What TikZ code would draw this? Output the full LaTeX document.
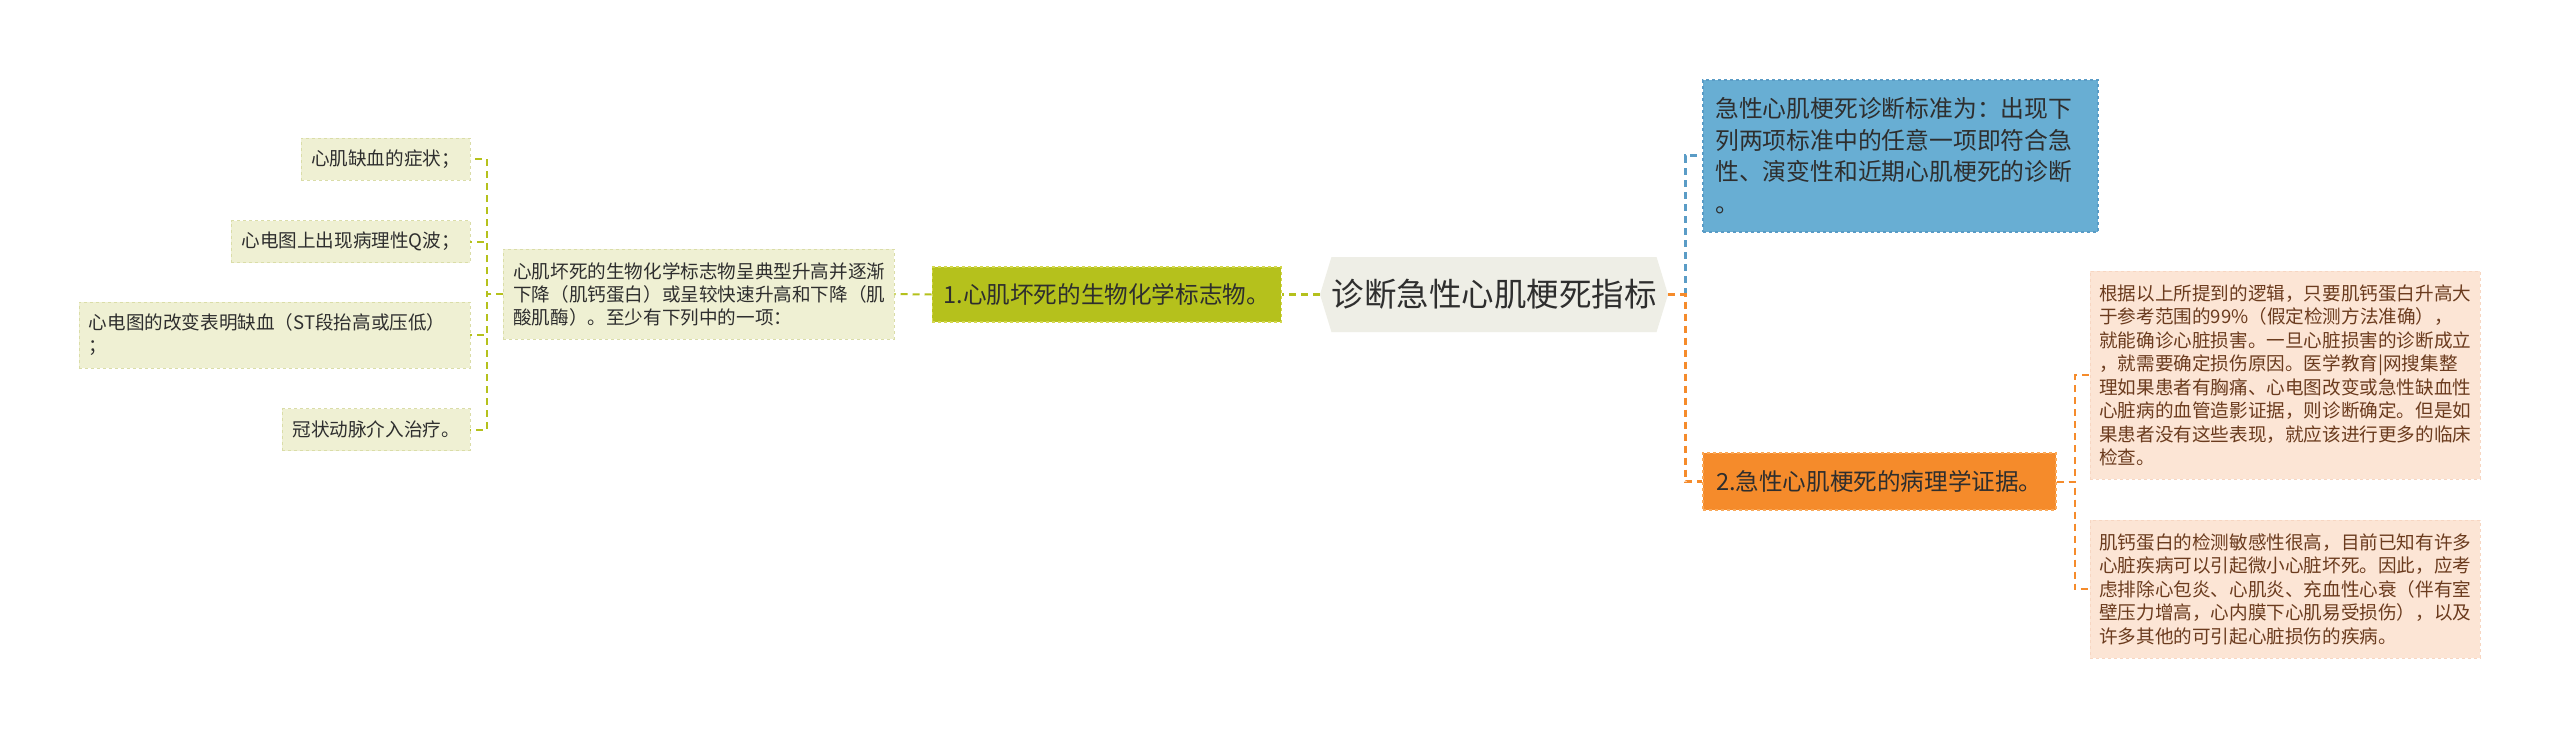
\documentclass[tikz,border=0pt]{standalone}
\usepackage{fontspec}
\setmainfont{Noto Sans CJK SC}
\usetikzlibrary{shapes.symbols}
\definecolor{leaffill}{HTML}{EFF0D3}
\definecolor{leafline}{HTML}{DADDA8}
\definecolor{limefill}{HTML}{B5C11C}
\definecolor{limeline}{HTML}{D3D74C}
\definecolor{hubfill}{HTML}{EEEEE6}
\definecolor{bluefill}{HTML}{68AED3}
\definecolor{blueline}{HTML}{5A9CC6}
\definecolor{orangefill}{HTML}{F58B2B}
\definecolor{orangeline}{HTML}{F9A858}
\definecolor{peachfill}{HTML}{FCE5D5}
\definecolor{peachline}{HTML}{F7D6C2}
\definecolor{peachtext}{HTML}{6B3B1E}
\definecolor{txtgray}{HTML}{2E2E2E}
\begin{document}
\begin{tikzpicture}
[%%%%%%%%%%%%%%%%%%%%%%%%%%%%%%
x=1pt,y=-1pt,
leaf/.style={rectangle,fill=leaffill,draw=leafline,dashed,text=txtgray,inner xsep=10pt,inner ysep=0pt,minimum height=42pt,align=left,font=\fontsize{18.6}{23}\selectfont},
topic/.style={rectangle,draw,dashed,line width=1.5pt,text=txtgray,inner xsep=8pt,inner ysep=0pt,font=\fontsize{23.6}{28}\selectfont},
note/.style={rectangle,fill=peachfill,draw=peachline,dashed,text=peachtext,inner xsep=9pt,inner ysep=0pt,minimum width=390pt,text width=372pt,align=left,font=\fontsize{18.6}{23.5}\selectfont},
link/.style={dash pattern=on 7pt off 5pt,line width=2pt},
]%%%%%%%%%%%%%%%%%%%%%%%%%%%%%%

\useasboundingbox[fill=white] (0,0) rectangle (2560,737);

% centre
\node[signal,signal to=east and west,signal pointer angle=146,fill=hubfill,inner sep=0pt,minimum width=348pt,minimum height=75pt,text=txtgray,font=\fontsize{32.5}{38}\selectfont] (hub) at (1494,294.5){诊断急性心肌梗死指标};

% left branch
\node[topic,fill=limefill,draw=limeline,minimum width=349pt,minimum height=55pt,anchor=east] (marker) at (1282,294.5){1.心肌坏死的生物化学标志物。};
\node[leaf,text width=371pt,minimum height=90pt,anchor=west] (markerdesc) at (503,294){心肌坏死的生物化学标志物呈典型升高并逐渐\\下降（肌钙蛋白）或呈较快速升高和下降（肌\\酸肌酶）。至少有下列中的一项：};

\node[leaf,anchor=east] (leafa) at (470,159){心肌缺血的症状；};
\node[leaf,anchor=east] (leafb) at (470,241.5){心电图上出现病理性Q波；};
\node[leaf,anchor=east,text width=371pt,minimum height=66pt] (leafc) at (470,335){心电图的改变表明缺血（ST段抬高或压低）\\；};
\node[leaf,anchor=east] (leafd) at (470,429.5){冠状动脉介入治疗。};

% right branch
\node[topic,fill=bluefill,draw=blueline,anchor=north west,minimum width=395pt,minimum height=152pt,text width=370pt,inner xsep=12.5pt,align=left,font=\fontsize{23.8}{31.7}\selectfont] (criteria) at (1702,79){急性心肌梗死诊断标准为：出现下\\列两项标准中的任意一项即符合急\\性、演变性和近期心肌梗死的诊断\\。};
\node[topic,fill=orangefill,draw=orangeline,minimum width=353pt,minimum height=57pt,anchor=west] (patho) at (1702,481.5){2.急性心肌梗死的病理学证据。};

\node[note,anchor=north west,minimum height=208pt] (note1) at (2090,271){根据以上所提到的逻辑，只要肌钙蛋白升高大\\于参考范围的99\%（假定检测方法准确），\\就能确诊心脏损害。一旦心脏损害的诊断成立\\，就需要确定损伤原因。医学教育|网搜集整\\理如果患者有胸痛、心电图改变或急性缺血性\\心脏病的血管造影证据，则诊断确定。但是如\\果患者没有这些表现，就应该进行更多的临床\\检查。};
\node[note,anchor=north west,minimum height=138pt] (note2) at (2090,520){肌钙蛋白的检测敏感性很高，目前已知有许多\\心脏疾病可以引起微小心脏坏死。因此，应考\\虑排除心包炎、心肌炎、充血性心衰（伴有室\\壁压力增高，心内膜下心肌易受损伤），以及\\许多其他的可引起心脏损伤的疾病。};

% connectors
\draw[link,limefill,line width=3pt] (hub.west) -- (marker.east);
\draw[link,limefill] (marker.west) -- (markerdesc.east);
\foreach \n in {a,b,c,d}
\draw[link,limefill] (markerdesc.west) -- ++(-16,0) |- (leaf\n.east);

\draw[link,blueline,line width=3pt] (hub.east) ++(17,0) |- (criteria.west);
\draw[link,orangefill,line width=3pt] (hub.east) -- ++(17,0) |- (patho.west);
\foreach \n in {1,2}
\draw[link,orangefill] (patho.east) -- ++(18,0) |- (note\n.west);
\end{tikzpicture}
\end{document}
